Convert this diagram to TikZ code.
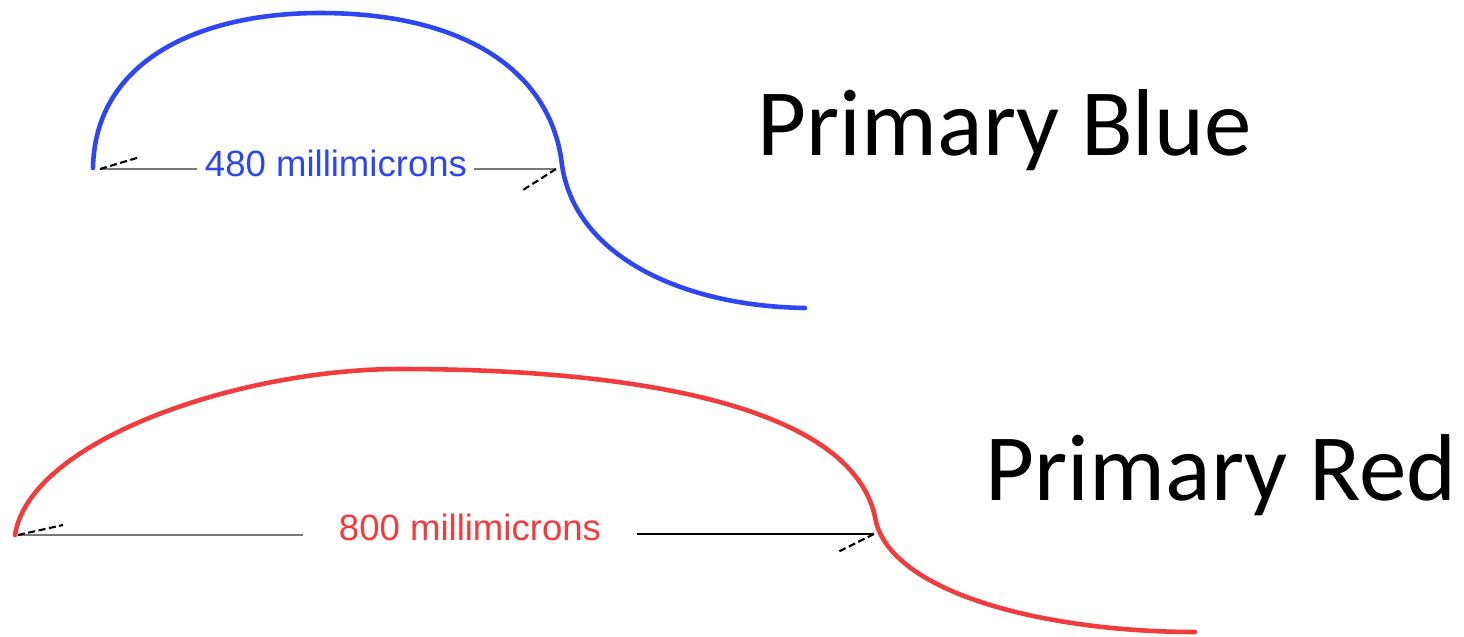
\documentclass[tikz,border=0pt]{standalone}
\usepackage{fontspec}
\setmainfont{Carlito}
\newfontfamily\labelfont{Liberation Sans}
\definecolor{cblue}{RGB}{45,70,240}
\definecolor{cred}{RGB}{240,60,60}
\definecolor{dimgray}{RGB}{120,120,120}
\begin{document}
\begin{tikzpicture}[x=0.01cm,y=-0.01cm,
  wave/.style={line width=1.3pt,line cap=round},
  dimline/.style={line width=0.6pt},
  tick/.style={line width=0.6pt,dash pattern=on 2pt off 1pt},
  title/.style={font=\fontsize{27}{30}\selectfont,inner sep=0pt,anchor=base west},
  dimlabel/.style={font=\labelfont\fontsize{10.4}{12}\selectfont,inner sep=0pt}]
\useasboundingbox (0,0) rectangle (1464,636);
% blue wave
\coordinate (b0) at (93,168);
\coordinate (btop) at (320,13);
\coordinate (bmid) at (562,165);
\coordinate (bend) at (805,308);
\draw[wave,cblue] (b0) .. controls (95,60) and (200,13) .. (btop)
  .. controls (470,13) and (552,75) .. (bmid)
  .. controls (575,255) and (680,306) .. (bend);
% red wave
\coordinate (r0) at (15,535);
\coordinate (rtop) at (400,369);
\coordinate (rmid) at (876,522);
\coordinate (rend) at (1195,632);
\draw[wave,cred] (r0) .. controls (30,440) and (240,369) .. (rtop)
  .. controls (650,369) and (858,410) .. (rmid)
  .. controls (895,595) and (1050,632) .. (rend);
% blue dimension
\node[dimlabel,text=cblue] (blab) at (336,163) {480 millimicrons};
\coordinate (bl) at (100,169);
\coordinate (br) at (556,169);
\draw[dimline,dimgray] (bl) -- ([xshift=-0.07cm]blab.west |- bl);
\draw[dimline,dimgray] ([xshift=0.06cm]blab.east |- br) -- (br);
\coordinate (blt) at (140,157);
\coordinate (brt) at (523,190);
\draw[tick] (bl) -- (blt);
\draw[tick] (br) -- (brt);
% red dimension
\node[dimlabel,text=cred] (rlab) at (470,527) {800 millimicrons};
\coordinate (rl) at (18,535);
\coordinate (rr) at (874,534);
\draw[dimline,dimgray] (rl) -- (303,535) coordinate (rlx);
\draw[dimline,black] (637,534) coordinate (rrx) -- (rr);
\coordinate (rlt) at (63,525);
\coordinate (rrt) at (838,552);
\draw[tick] (rl) -- (rlt);
\draw[tick] (rr) -- (rrt);
% titles
\node[title] (tblue) at (757,155) {Primary Blue};
\node[title] (tred) at (985,500) {Primary Red};
\end{tikzpicture}
\end{document}
